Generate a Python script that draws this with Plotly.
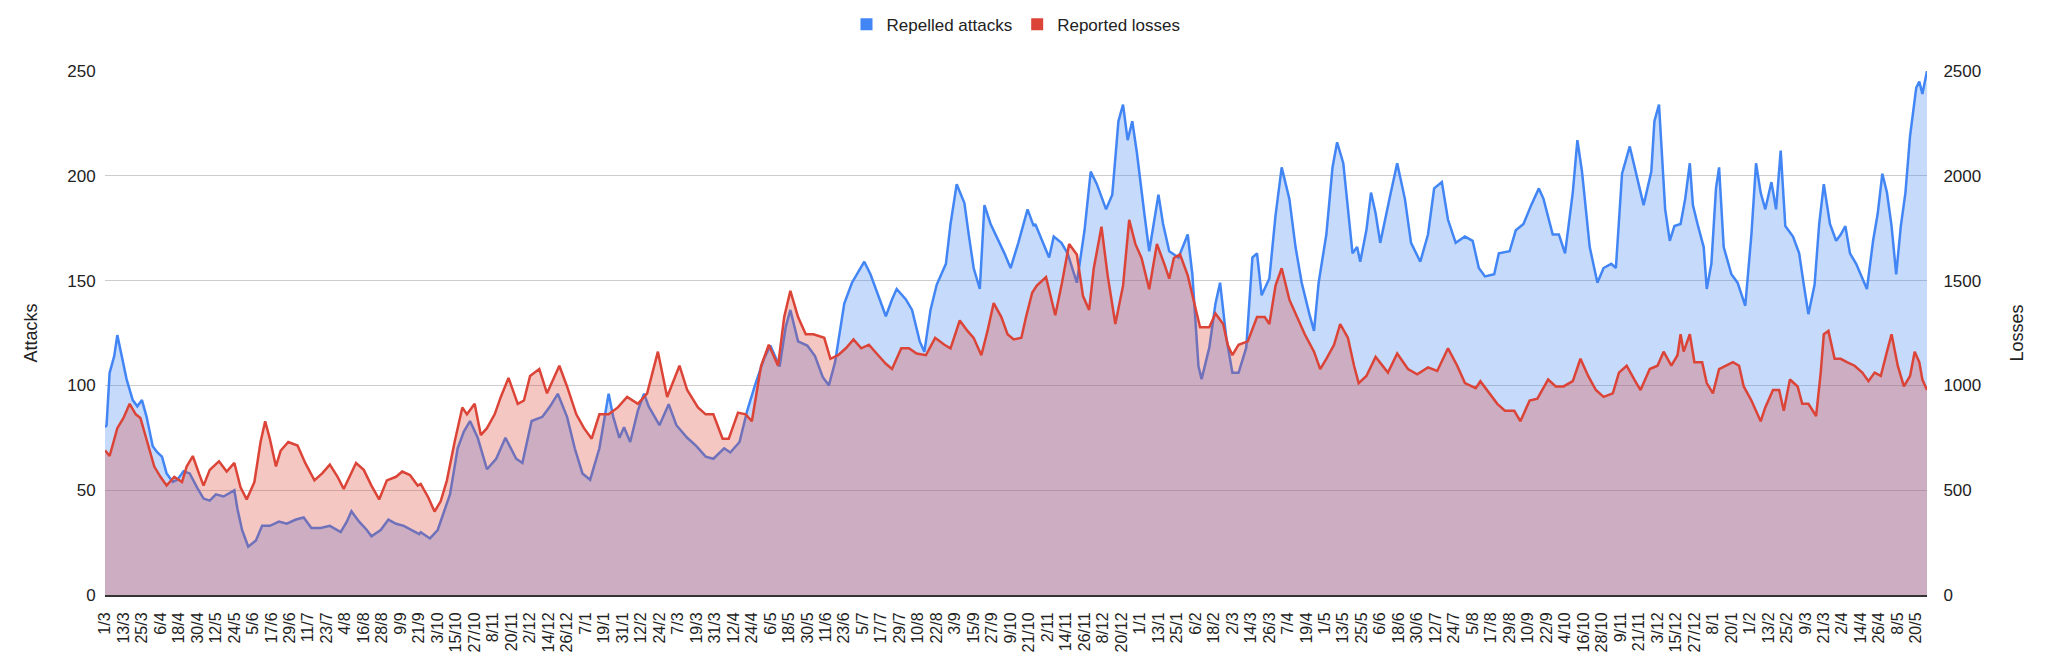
import plotly.graph_objects as go

# ---- data ----
# day offsets from the first category (1/3), and values
attack_days = [0,1,3,6,8,11,14,18,21,24,27,31,34,37,40,44,47,51,55,60,64,68,72,77,82,84,86,89,93,98,102,107,113,118,124,129,134,140,146,153,157,160,165,170,173,179,184,189,194,199,204,
 205,211,216,220,224,229,233,237,242,248,254,260,267,271,277,284,289,294,300,305,310,315,321,327,330,334,337,341,346,350,353,360,366,371,378,384,390,395,402,
 406,412,417,422,428,432,438,442,445,450,456,461,466,470,474,480,485,493,497,503,507,511,514,520,524,529,532,536,540,546,549,553,558,561,564,568,571,575,579,584,588,593,599,603,
 604,609,613,616,621,625,631,636,640,644,650,654,658,661,664,667,670,675,678,684,687,691,697,703,706,710,712,717,721,724,728,732,736,741,745,748,751,756,760,764,769,773,777,782,785,788,793,797,800,804,
 808,810,813,815,819,822,825,828,834,839,844,848,854,859,863,868,872,877,883,888,892,896,902,905,912,916,921,926,931,934,940,944,948,953,956,959,964,969,973,978,981,985,990,995,999,
 1004,1006,1009,1011,1013,1016,1019,1023,1026,1029,1031,1034,1038,1040,1043,1046,1048,1051,1056,1060,1065,1069,1072,1075,1078,1082,1085,1088,1091,1096,1100,1103,1106,1110,1113,1116,1120,1124,1127,1130,1133,1137,1140,1144,1148,1151,1154,1157,1160,1163,1166,1169,1172,1176,1178,1180,1183]
attack_values = [80,81,106,114,124,113,103,93,90,93,85,71,68,66,58,54,55,59,58,51,46,45,48,47,49,50,41,31,23,26,33,33,35,34,36,37,32,32,33,30,35,40,35,31,28,31,36,34,33,31,29,
 30,27,31,40,48,70,78,83,75,60,65,75,65,63,83,85,90,96,85,70,58,55,70,96,85,75,80,73,88,96,90,81,91,81,75,71,66,65,70,
 68,73,88,100,113,119,109,128,136,121,119,114,104,100,111,139,149,159,153,141,133,141,146,141,136,121,116,136,148,158,177,196,187,171,156,146,186,177,171,163,156,168,184,176,
 177,168,161,171,168,163,149,174,202,196,184,191,226,234,217,226,211,181,164,191,177,164,161,172,153,109,103,118,139,149,123,106,106,118,161,163,143,151,181,204,189,166,149,134,126,149,172,204,216,206,
 175,163,166,159,174,192,182,168,189,206,189,168,159,172,194,197,179,168,171,169,156,152,153,163,164,174,177,186,194,189,172,172,163,192,217,202,166,149,156,158,156,201,214,199,186,
 202,226,234,206,184,169,176,177,189,206,186,177,166,146,158,194,204,166,153,149,138,172,206,192,184,197,184,212,176,171,163,148,134,148,177,196,177,169,172,176,163,158,153,146,169,182,201,192,176,153,176,192,219,242,245,239,250]

loss_days = [0,1,3,8,12,16,20,23,27,32,36,40,45,50,53,57,61,64,68,74,79,84,88,92,97,101,104,107,111,114,119,125,130,136,141,146,151,155,163,168,173,178,183,189,193,198,203,
 205,210,214,218,222,227,232,235,240,244,248,253,257,262,268,272,276,282,287,295,300,306,311,316,321,327,333,339,346,352,359,365,373,378,385,390,395,401,
 405,411,416,420,426,431,437,441,445,450,455,460,467,471,476,481,486,491,496,501,507,511,517,522,527,533,539,545,549,555,560,564,569,573,577,582,586,590,595,598,602,
 605,611,617,621,626,631,635,639,642,647,651,656,661,665,669,673,678,683,688,691,694,698,703,707,711,717,721,726,729,732,736,742,748,753,756,760,764,769,774,779,785,789,793,798,802,
 807,811,814,819,825,833,839,846,852,859,865,872,878,883,890,893,899,904,909,915,919,925,930,937,942,947,953,958,963,968,973,979,983,988,993,997,1003,
 1008,1012,1017,1021,1023,1025,1029,1032,1037,1040,1044,1048,1052,1057,1061,1064,1069,1075,1078,1083,1087,1090,1094,1099,1102,1106,1111,1114,1116,1119,1123,1127,1131,1136,1141,1145,1149,1153,1157,1160,1164,1168,1172,1175,1178,1180,1183]
loss_values = [690,680,663,796,845,912,862,845,746,613,564,522,564,539,613,663,580,522,597,638,589,630,514,456,539,730,829,746,613,688,730,713,630,547,580,622,564,506,630,597,522,456,547,564,589,572,522,
 530,464,398,448,547,730,895,862,912,763,796,862,945,1036,912,928,1045,1078,962,1094,995,862,796,746,862,862,895,945,912,962,1161,945,1094,978,895,862,862,746,
 746,870,862,829,1094,1194,1094,1326,1451,1326,1244,1244,1227,1127,1144,1177,1219,1177,1194,1152,1103,1078,1177,1177,1152,1144,1227,1194,1177,1310,1260,1227,1144,1260,1393,1326,1244,1219,1227,1326,1442,
 1476,1517,1335,1476,1675,1625,1426,1360,1559,1757,1525,1293,1476,1790,1675,1608,1459,1675,1575,1509,1608,1625,1525,1393,1277,1277,1343,1293,1194,1144,1194,1210,1326,1326,1293,1476,1559,1409,1326,1244,1161,1078,1127,1194,1293,
 1227,1094,1011,1045,1136,1061,1152,1078,1053,1086,1069,1177,1094,1011,987,1020,962,912,879,879,829,928,937,1028,995,995,1020,1127,1045,978,945,962,1061,1094,1028,978,1078,
 1094,1161,1094,1144,1244,1161,1244,1111,1111,1011,962,1078,1094,1111,1094,995,928,829,895,978,978,879,1028,995,912,912,854,1061,1244,1260,1127,1127,1111,1094,1061,1020,1061,1045,1161,1244,1094,995,1045,1161,1111,1028,978]

tick_labels = ["1/3","13/3","25/3","6/4","18/4","30/4","12/5","24/5","5/6","17/6","29/6","11/7","23/7","4/8","16/8","28/8","9/9","21/9","3/10","15/10","27/10","8/11","20/11","2/12","14/12","26/12",
 "7/1","19/1","31/1","12/2","24/2","7/3","19/3","31/3","12/4","24/4","6/5","18/5","30/5","11/6","23/6","5/7","17/7","29/7","10/8","22/8","3/9","15/9","27/9","9/10","21/10","2/11","14/11","26/11","8/12","20/12",
 "1/1","13/1","25/1","6/2","18/2","2/3","14/3","26/3","7/4","19/4","1/5","13/5","25/5","6/6","18/6","30/6","12/7","24/7","5/8","17/8","29/8","10/9","22/9","4/10","16/10","28/10","9/11","21/11","3/12","15/12","27/12",
 "8/1","20/1","1/2","13/2","25/2","9/3","21/3","2/4","14/4","26/4","8/5","20/5"]
label_step = 12
n_days = 1184

BLUE = "#4285F4"
RED = "#DB4437"
FONT = "Arial, Liberation Sans, sans-serif"
TXT = "#222222"

fig = go.Figure()
fig.add_trace(go.Scatter(x=attack_days, y=attack_values, mode="lines", name="Repelled attacks",
                         line=dict(color=BLUE, width=2.5), fill="tozeroy",
                         fillcolor="rgba(66,133,244,0.3)", showlegend=False, yaxis="y"))
fig.add_trace(go.Scatter(x=loss_days, y=loss_values, mode="lines", name="Reported losses",
                         line=dict(color=RED, width=2.5), fill="tozeroy",
                         fillcolor="rgba(219,68,55,0.3)", showlegend=False, yaxis="y2"))
# legend swatches
fig.add_trace(go.Scatter(x=[None], y=[None], mode="markers", name="Repelled attacks",
                         marker=dict(symbol="square", size=16, color=BLUE)))
fig.add_trace(go.Scatter(x=[None], y=[None], mode="markers", name="Reported losses",
                         marker=dict(symbol="square", size=16, color=RED)))

fig.update_layout(
    width=2047, height=668,
    margin=dict(l=105, r=120, t=71, b=73),
    paper_bgcolor="white", plot_bgcolor="white",
    font=dict(family=FONT, size=16, color=TXT),
    showlegend=True,
    legend=dict(orientation="h", x=0.5, xanchor="center", y=0.99, yanchor="top",
                yref="container", font=dict(size=17, color=TXT),
                itemsizing="constant", traceorder="normal"),
    xaxis=dict(range=[0, n_days - 1], tickmode="array",
               tickvals=[i * label_step for i in range(len(tick_labels))],
               ticktext=tick_labels, tickangle=-90, showgrid=False, zeroline=False,
               showline=True, linecolor="#333333", linewidth=2,
               ticks="outside", ticklen=9, tickcolor="rgba(0,0,0,0)",
               tickfont=dict(size=16, color=TXT)),
    yaxis=dict(range=[0, 250], dtick=50, tick0=0, showgrid=True, gridcolor="#cccccc", gridwidth=1,
               zeroline=False, tickfont=dict(size=17, color=TXT),
               ticks="outside", ticklen=5, tickcolor="rgba(0,0,0,0)",
               title=dict(text="Attacks", font=dict(size=18, color=TXT), standoff=24)),
    yaxis2=dict(range=[0, 2500], dtick=500, tick0=0, overlaying="y", side="right",
                showgrid=False, zeroline=False, tickfont=dict(size=17, color=TXT),
                ticks="outside", ticklen=12, tickcolor="rgba(0,0,0,0)",
                title=dict(text="Losses", font=dict(size=18, color=TXT), standoff=30)),
)

fig.write_html("out.html")
